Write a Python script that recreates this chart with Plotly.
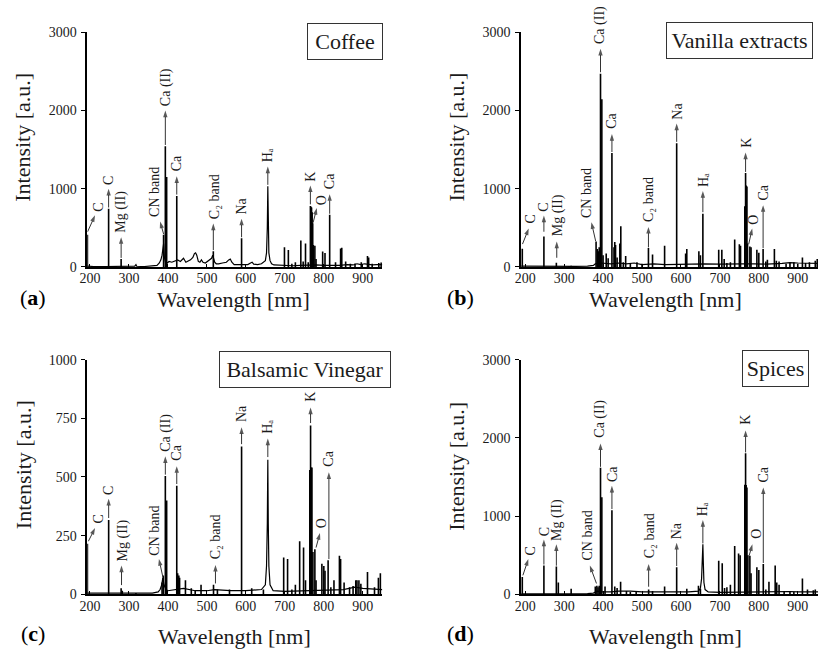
import plotly.graph_objects as go

SERIF = "Liberation Serif"
INK = "#1b1b1b"

# ---------------- shared axis values ----------------
wl_ticks = [200, 300, 400, 500, 600, 700, 800, 900]
int_ticks_3000 = [0, 1000, 2000, 3000]
int_ticks_1000 = [0, 250, 500, 750, 1000]

# ---------------- (a) Coffee ----------------
coffee_base_wl = [193, 196, 210, 240, 260, 290, 300, 315, 318, 320, 340, 360, 372, 378, 382, 385,
                  387, 389, 391, 394, 398, 403, 410, 418, 425, 432, 440, 446, 452, 458, 464, 468,
                  471, 474, 478, 482, 486, 490, 496, 502, 508, 512, 515, 520, 524, 530, 540, 550,
                  556, 560, 564, 570, 580, 595, 605, 612, 616, 620, 630, 640, 646, 650, 653, 655,
                  656.3, 657.5, 659, 662, 666, 672, 685, 700, 720, 740, 760, 780, 800, 820, 840,
                  860, 875, 885, 895, 905, 915, 925, 935, 945, 950]
coffee_base_int = [10, 8, 5, 5, 5, 8, 5, 10, 30, 8, 5, 10, 20, 50, 90, 150,
                   230, 300, 120, 60, 50, 70, 60, 80, 90, 70, 110, 60, 70, 90, 120, 170,
                   180, 150, 70, 60, 90, 60, 50, 70, 90, 110, 150, 60, 40, 40, 50, 60,
                   90, 100, 60, 30, 30, 25, 30, 50, 60, 35, 30, 40, 60, 80, 180, 500,
                   1033, 500, 180, 80, 40, 25, 20, 20, 15, 20, 25, 25, 20, 20, 20,
                   30, 25, 40, 30, 40, 30, 25, 30, 35, 30]
coffee_peak_wl = [193.5, 247.9, 280.0, 388.9, 393.4, 396.8, 422.7, 516.5, 589.0, 699, 709, 718, 727,
                  741, 747, 753, 760, 765.5, 767, 768.5, 770, 771.5, 773, 777, 780, 797, 803, 815,
                  830, 843, 846, 856, 868, 880, 896, 912, 915, 924, 941, 947]
coffee_peak_int = [410, 745, 100, 410, 1542, 1150, 908, 200, 367, 250, 217, 40, 60,
                   337, 70, 300, 60, 780, 770, 760, 700, 560, 280, 270, 100, 196, 179, 667,
                   60, 235, 245, 70, 40, 45, 60, 140, 120, 40, 50, 55]

# ---------------- (b) Vanilla extracts ----------------
vanilla_base_wl = [190, 220, 260, 300, 330, 360, 375, 380, 395, 420, 440, 460, 480, 500, 530,
                   560, 600, 640, 660, 700, 730, 760, 790, 820, 860, 880, 900, 925, 952]
vanilla_base_int = [10, 8, 10, 10, 8, 10, 20, 40, 50, 40, 50, 40, 50, 30, 40,
                    30, 35, 40, 40, 35, 40, 40, 40, 35, 45, 55, 50, 45, 45]
vanilla_peak_wl = [192.5, 248, 280, 318, 382, 385, 388, 390, 393.4, 396.8, 400, 408, 413, 422.7,
                   428, 430, 432, 436, 443, 445.5, 452, 458, 470, 487, 500, 516.5, 527, 558, 589.0,
                   612, 615, 646, 650, 656.3, 697, 705, 711, 718, 727, 738, 750, 753, 764, 766,
                   767.5, 769.5, 771, 777, 780, 795, 800, 811, 818, 822, 840, 845, 852, 870, 880,
                   890, 900, 912, 920, 930, 945, 950]
vanilla_peak_int = [233, 388, 54, 15, 325, 230, 200, 250, 2471, 2146, 150, 170, 110, 1458,
                    250, 320, 280, 120, 300, 521, 60, 140, 50, 60, 40, 242, 160, 270, 1583,
                    170, 230, 200, 150, 680, 220, 220, 100, 50, 60, 350, 290, 270, 775, 1200,
                    1040, 1030, 300, 260, 250, 220, 180, 230, 70, 90, 230, 80, 70, 40, 50,
                    60, 40, 120, 50, 60, 80, 100]

# ---------------- (c) Balsamic Vinegar ----------------
balsamic_base_wl = [193, 250, 300, 360, 375, 380, 384, 387, 390, 395, 400, 420, 440, 470, 500,
                    520, 560, 600, 640, 650, 653, 655, 656.3, 657.5, 659, 662, 670, 700, 760,
                    800, 850, 880, 900, 950]
balsamic_base_int = [5, 5, 5, 5, 10, 20, 40, 70, 40, 20, 15, 20, 25, 15, 15,
                     20, 15, 15, 20, 40, 120, 300, 574, 300, 120, 40, 15, 12, 15,
                     15, 20, 30, 25, 20]
balsamic_peak_wl = [193.5, 248, 280, 283, 318, 385, 388, 393.4, 396.8, 422.7, 425, 428, 430, 445,
                    460, 470, 485, 517, 527, 558, 589.0, 615, 645, 697, 707, 718, 727, 738, 748,
                    753, 764, 766, 767.5, 769.5, 772, 777, 780, 795, 800, 803, 811, 818, 826,
                    840, 843, 852, 866, 875, 882, 885, 890, 895, 912, 930, 940, 945]
balsamic_peak_int = [215, 317, 25, 15, 5, 50, 80, 504, 400, 463, 90, 80, 70, 60,
                     25, 15, 40, 40, 20, 20, 630, 25, 20, 157, 150, 20, 40, 226, 199,
                     60, 530, 720, 540, 540, 180, 192, 60, 130, 120, 100, 145, 30, 60,
                     164, 150, 50, 30, 35, 60, 60, 60, 45, 95, 30, 70, 90]

# ---------------- (d) Spices ----------------
spices_base_wl = [190, 250, 300, 360, 375, 385, 395, 420, 440, 470, 500, 540, 580, 620, 645,
                  650, 653, 655, 656.3, 657.5, 659, 662, 670, 700, 760, 800, 850, 880, 900, 952]
spices_base_int = [5, 5, 8, 8, 15, 40, 30, 30, 40, 40, 30, 30, 30, 30, 40,
                   80, 200, 400, 638, 400, 150, 60, 30, 25, 30, 30, 30, 35, 30, 30]
spices_peak_wl = [192.5, 248, 280, 285, 318, 380, 384, 387, 390, 393.4, 396.8, 405, 422.7, 430,
                  436, 445, 460, 470, 485, 517, 527, 558, 589.0, 615, 645, 650, 697, 706, 712,
                  718, 727, 738, 748, 752, 764, 766, 767.5, 769.5, 772, 777, 780, 795, 800,
                  811.5, 818, 826, 842, 846, 852, 865, 880, 890, 912, 925, 940, 945]
spices_peak_int = [221, 367, 354, 150, 70, 100, 110, 90, 110, 1617, 1242, 100, 1075, 100,
                   80, 160, 40, 30, 40, 60, 40, 100, 346, 70, 110, 70, 429, 396, 80,
                   90, 120, 617, 520, 500, 1400, 1804, 1396, 1367, 500, 492, 270, 346, 310,
                   388, 60, 160, 367, 150, 120, 40, 40, 30, 200, 60, 50, 60]

C2 = "C\u2082 band"
HA = "H\u2090"

# Line assignments: (label, arrow tail wl, tail intensity, arrow tip wl, tip intensity,
#                    label wl, label bottom intensity)
coffee_marks = [
    ("C", 194, 450, 213, 660, 222, 680),
    ("C", 247.9, 760, 247.9, 1000, 247.9, 1025),
    ("Mg (II)", 280, 115, 280, 380, 281, 405),
    ("CN band", 389, 420, 380, 580, 366, 610),
    ("Ca (II)", 393.4, 1560, 393.4, 2000, 393.4, 2035),
    ("Ca", 422.7, 925, 422.7, 1160, 422.7, 1195),
    (C2, 516.5, 215, 516.5, 555, 518, 590),
    ("Na", 589, 380, 589, 617, 589, 645),
    (HA, 656.3, 1050, 656.3, 1283, 656.3, 1310),
    ("K", 765.5, 800, 765.5, 1042, 765.5, 1070),
    ("O", 772.5, 566, 782, 754, 794, 770),
    ("Ca", 815, 680, 815, 930, 815, 965),
]
vanilla_marks = [
    ("C", 193, 292, 209, 492, 216, 530),
    ("C", 248, 450, 248, 658, 248, 685),
    ("Mg (II)", 281, 117, 281, 325, 283, 360),
    ("CN band", 381, 330, 370, 570, 358, 596),
    ("Ca (II)", 393.4, 2490, 393.4, 2790, 393.4, 2820),
    ("Ca", 422.7, 1470, 422.7, 1700, 422.7, 1740),
    (C2, 516.5, 250, 516.5, 512, 517, 550),
    ("Na", 589, 1600, 589, 1833, 589, 1860),
    (HA, 656.3, 700, 656.3, 971, 656.3, 995),
    ("K", 766, 1215, 766, 1462, 766, 1495),
    ("O", 774, 290, 783, 492, 788, 515),
    ("Ca", 811, 240, 811, 790, 811, 825),
]
balsamic_marks = [
    ("C", 196, 226, 213, 282, 221, 292),
    ("C", 248, 325, 248, 407, 248, 415),
    ("Mg (II)", 281, 39, 281, 122, 284, 130),
    ("CN band", 387, 74, 377, 150, 365, 157),
    ("Ca (II)", 393.4, 510, 393.4, 588, 393.4, 600),
    ("Ca", 422.7, 470, 422.7, 546, 422.7, 560),
    (C2, 522, 46, 522, 125, 522, 140),
    ("Na", 589, 640, 589, 712, 589, 726),
    (HA, 656.3, 585, 656.3, 664, 656.3, 675),
    ("K", 766, 730, 766, 796, 766, 810),
    ("O", 780, 199, 790, 261, 794, 275),
    ("Ca", 813, 150, 813, 520, 813, 535),
]
spices_marks = [
    ("C", 194, 242, 208, 450, 214, 471),
    ("C", 248, 380, 248, 700, 248, 721),
    ("Mg (II)", 280, 365, 280, 638, 282, 658),
    ("CN band", 383, 138, 366, 367, 360, 400),
    ("Ca (II)", 393.4, 1630, 393.4, 1929, 393.4, 1971),
    ("Ca", 422.7, 1090, 422.7, 1388, 422.7, 1408),
    (C2, 517, 96, 517, 388, 518, 429),
    ("Na", 589, 360, 589, 658, 589, 679),
    (HA, 656.3, 650, 656.3, 950, 656.3, 970),
    ("K", 766, 1815, 766, 2096, 766, 2137),
    ("O", 775, 492, 783.5, 638, 792, 679),
    ("Ca", 811.5, 400, 811.5, 1367, 811.5, 1408),
]

W, H = 818, 655


def px_x(p):
    return p / W


def px_y(p):
    return 1 - p / H


panels = [
    dict(ax="", name="Coffee", letter="a", base=(coffee_base_wl, coffee_base_int),
         peaks=(coffee_peak_wl, coffee_peak_int), marks=coffee_marks,
         xdom=(80, 378), ydom=(26, 266), xr=(193, 950), yr=(0, 3000), yt=int_ticks_3000,
         box=(379, 16, 74, 35), ytitle=(15, 133), xtitle=(228, 299), lab=(25, 297)),
    dict(ax="2", name="Vanilla extracts", letter="b", base=(vanilla_base_wl, vanilla_base_int),
         peaks=(vanilla_peak_wl, vanilla_peak_int), marks=vanilla_marks,
         xdom=(518, 818), ydom=(26, 266), xr=(189, 952), yr=(0, 3000), yt=int_ticks_3000,
         box=(813, 15, 145, 35), ytitle=(453, 133), xtitle=(664, 299), lab=(457, 297)),
    dict(ax="3", name="Balsamic Vinegar", letter="c", base=(balsamic_base_wl, balsamic_base_int),
         peaks=(balsamic_peak_wl, balsamic_peak_int), marks=balsamic_marks,
         xdom=(80, 378), ydom=(361, 601), xr=(193, 950), yr=(0, 1000), yt=int_ticks_1000,
         box=(387, 352, 170, 35), ytitle=(15, 468), xtitle=(229, 644), lab=(25, 641)),
    dict(ax="4", name="Spices", letter="d", base=(spices_base_wl, spices_base_int),
         peaks=(spices_peak_wl, spices_peak_int), marks=spices_marks,
         xdom=(518, 818), ydom=(361, 601), xr=(189, 952), yr=(0, 3000), yt=int_ticks_3000,
         box=(809, 351, 65, 35), ytitle=(453, 470), xtitle=(664, 644), lab=(457, 641)),
]

fig = go.Figure()
annotations = []
layout_axes = {}

for p in panels:
    xa, ya = "x" + p["ax"], "y" + p["ax"]
    # continuous background of the spectrum
    fig.add_trace(go.Scatter(x=p["base"][0], y=p["base"][1], mode="lines",
                             line=dict(color="black", width=1.2),
                             xaxis=xa, yaxis=ya, showlegend=False, hoverinfo="skip"))
    # emission lines as narrow spikes rising from zero
    sx, sy = [], []
    for w, h in zip(*p["peaks"]):
        sx += [w, w, None]
        sy += [0, h, None]
    fig.add_trace(go.Scatter(x=sx, y=sy, mode="lines",
                             line=dict(color="black", width=1.6),
                             xaxis=xa, yaxis=ya, showlegend=False, hoverinfo="skip"))

    # assignment arrows: shaft from tail to tip, arrowhead oriented along the shaft
    arx, ary, asz = [], [], []
    for text, tx, ty, hx, hy, lx, ly in p["marks"]:
        arx += [tx, hx, None]
        ary += [ty, hy, None]
        asz += [0, 7, 0]
        annotations.append(dict(
            x=lx, y=ly, xref=xa, yref=ya, text=text, showarrow=False, textangle=-90,
            xanchor="center", yanchor="bottom",
            font=dict(family=SERIF, size=14, color=INK)))
    fig.add_trace(go.Scatter(x=arx, y=ary, mode="lines+markers",
                             line=dict(color="#333333", width=1),
                             marker=dict(symbol="arrow", size=asz, angleref="previous",
                                         color="#111111", line=dict(width=0)),
                             xaxis=xa, yaxis=ya, showlegend=False, hoverinfo="skip"))

    axis_font = dict(family=SERIF, size=14, color=INK)
    layout_axes["xaxis" + p["ax"]] = dict(
        domain=[px_x(p["xdom"][0]), px_x(p["xdom"][1])], range=list(p["xr"]),
        anchor=ya, tickvals=wl_ticks, ticks="inside", ticklen=3, tickwidth=1,
        tickcolor="black", showline=True, linecolor="black", linewidth=1.5,
        showgrid=False, zeroline=False, tickfont=axis_font, ticklabelstandoff=-2)
    layout_axes["yaxis" + p["ax"]] = dict(
        domain=[px_y(p["ydom"][1]), px_y(p["ydom"][0])], range=list(p["yr"]),
        anchor=xa, tickvals=p["yt"], ticks="outside", ticklen=4, tickwidth=1,
        tickcolor="black", showline=True, linecolor="black", linewidth=1.5,
        showgrid=False, zeroline=False, tickfont=axis_font, ticklabelstandoff=2)

    bx, by, bw, bh = p["box"]
    annotations.append(dict(
        x=px_x(bx), y=px_y(by), xref="paper", yref="paper", text=p["name"],
        showarrow=False, xanchor="right", yanchor="top", width=bw, height=bh,
        bordercolor="#333333", borderwidth=1, borderpad=0, bgcolor="white",
        font=dict(family=SERIF, size=22, color=INK)))
    annotations.append(dict(
        x=px_x(p["ytitle"][0]), y=px_y(p["ytitle"][1]), xref="paper", yref="paper",
        text="Intensity [a.u.]", textangle=-90, showarrow=False,
        xanchor="center", yanchor="middle", font=dict(family=SERIF, size=22, color=INK)))
    annotations.append(dict(
        x=px_x(p["xtitle"][0]), y=px_y(p["xtitle"][1]), xref="paper", yref="paper",
        text="Wavelength [nm]", showarrow=False,
        xanchor="center", yanchor="middle", font=dict(family=SERIF, size=22, color=INK)))
    annotations.append(dict(
        x=px_x(p["lab"][0]), y=px_y(p["lab"][1]), xref="paper", yref="paper",
        text="(<b>%s</b>)" % p["letter"], showarrow=False,
        xanchor="center", yanchor="middle", font=dict(family=SERIF, size=22, color="black")))

fig.update_layout(
    width=W, height=H, margin=dict(l=0, r=0, t=0, b=0),
    paper_bgcolor="white", plot_bgcolor="white",
    annotations=annotations, **layout_axes)

fig.write_html("out.html")
